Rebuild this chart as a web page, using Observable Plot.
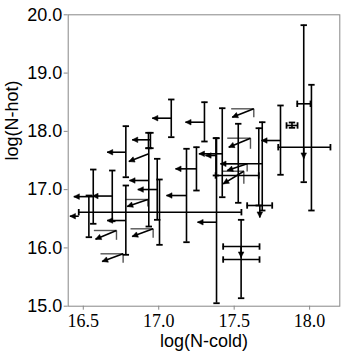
<!DOCTYPE html>
<html><head><meta charset="utf-8">
<script src="https://cdn.jsdelivr.net/npm/d3@7"></script>
<script src="https://cdn.jsdelivr.net/npm/@observablehq/plot@0.6"></script>
<style>body{margin:0;background:#fff}#chart svg{display:block}</style>
</head><body><div id="chart"></div>
<script>
const xTicks = [16.5, 17.0, 17.5, 18.0];
const yTicks = [15, 16, 17, 18, 19, 20];
const xLabel = "log(N-cold)";
const yLabel = "log(N-hot)";

// measurements with error bars
const barX = [17.083,17.303,16.782,16.945,16.932,16.934,16.990,17.005,17.184,17.250,17.421,17.383,17.379,16.692,16.566,16.537,16.782,17.546,17.546,17.670,17.663,17.686,17.807,17.883,17.961,17.961,18.012,17.527];
const barY = [18.226,18.157,17.642,17.855,17.855,17.157,17.002,16.613,16.899,17.357,17.615,16.441,17.569,16.890,16.880,16.544,16.470,15.801,16.024,16.728,17.243,17.443,17.843,18.101,18.473,17.728,17.723,17.452];
const yLo  = [17.900,17.826,17.213,17.711,17.711,16.367,16.482,16.053,16.098,16.985,16.870,15.051,17.243,16.458,16.414,16.184,15.882,15.137,null,null,16.728,16.642,17.255,18.061,null,17.128,16.642,16.774];
const yHi  = [18.547,18.500,18.089,17.975,17.975,17.711,17.529,17.174,17.701,17.728,18.397,17.883,17.883,17.328,17.345,16.899,17.071,16.482,null,null,18.054,18.157,18.444,18.152,null,19.822,18.799,18.130];
const xLo  = [null,null,null,null,null,null,null,16.470,null,null,null,null,null,null,null,null,null,17.427,17.427,17.586,17.377,null,null,17.847,17.918,17.792,null,null];
const xHi  = [null,null,null,null,null,null,null,17.548,null,null,null,null,null,null,null,null,null,17.668,17.668,17.752,17.663,null,null,17.920,18.006,18.138,null,null];

// upper limits in N-cold (left arrows)
const leftX  = [17.083,17.303,16.782,16.945,16.934,16.990,17.184,17.250,17.421,17.379,17.383,16.692,16.566,16.782,16.470,17.686,17.807];
const leftY  = [18.226,18.157,17.642,17.855,17.157,17.002,16.899,17.357,17.615,17.586,16.441,16.890,16.880,16.470,16.544,17.443,17.843];
const leftTo = [16.957,17.177,16.658,16.824,16.806,16.861,17.051,17.111,17.266,17.310,17.257,16.561,16.437,16.658,16.411,17.409,17.681];

// upper limits in N-hot (down arrows)
const downX  = [17.961,17.546,17.670];
const downY  = [17.728,16.024,16.728];
const downTo = [17.534,15.835,16.522];

// upper limits in both (diagonal arrows)
const diagX    = [17.630,17.608,17.586,17.564,16.928,16.720,16.963,16.764,16.934];
const diagY    = [18.387,17.883,17.443,17.316,16.831,16.299,16.328,15.899,17.615];
const diagToX  = [17.487,17.464,17.454,17.427,16.791,16.581,16.824,16.625,16.802];
const diagToY  = [18.243,17.728,17.328,17.100,16.711,16.150,16.196,15.767,17.483];
const diagLeft = [17.480,17.454,17.409,17.420,16.780,16.570,16.813,16.614,16.934];
const diagBot  = [18.243,17.701,17.311,17.100,16.711,16.139,16.174,15.745,17.615];

const W = 357, H = 357, mL = 67.7, mR = 17.7, mT = 14.3, mB = 51.3;
const xDom = [16.4, 18.2], yDom = [15, 20];
const kx = (W - mL - mR) / (xDom[1] - xDom[0]);
const ky = (H - mT - mB) / (yDom[1] - yDom[0]);

const bars = barX.map((x, i) => ({x, y: barY[i], yLo: yLo[i], yHi: yHi[i], xLo: xLo[i], xHi: xHi[i]}));
const vbars = bars.filter(d => d.yLo != null);
const hbars = bars.filter(d => d.xLo != null);
const vcaps = vbars.flatMap(d => [{x: d.x, y: d.yLo}, {x: d.x, y: d.yHi}]);
const hcaps = hbars.flatMap(d => [{x: d.xLo, y: d.y}, {x: d.xHi, y: d.y}]);

const arrows = [
  ...leftX.map((x, i) => ({x0: x, y0: leftY[i], x1: leftTo[i], y1: leftY[i]})),
  ...downX.map((x, i) => ({x0: x, y0: downY[i], x1: x, y1: downTo[i]})),
  ...diagX.map((x, i) => ({x0: x, y0: diagY[i], x1: diagToX[i], y1: diagToY[i]}))
];
const diags = diagX.map((x, i) => ({x, y: diagY[i], left: diagLeft[i], bottom: diagBot[i]}));
const angle = d => Math.atan2((d.x1 - d.x0) * kx, (d.y1 - d.y0) * ky) * 180 / Math.PI;

const hcapSym = {draw(ctx) { ctx.moveTo(-3.2, 0); ctx.lineTo(3.2, 0); }};
const vcapSym = {draw(ctx) { ctx.moveTo(0, -3.2); ctx.lineTo(0, 3.2); }};
const headSym = {draw(ctx) { ctx.moveTo(0, 0); ctx.lineTo(-2.8, 5.6); ctx.lineTo(2.8, 5.6); ctx.closePath(); }};

const chart = Plot.plot({
  width: W, height: H,
  marginLeft: mL, marginRight: mR, marginTop: mT, marginBottom: mB,
  x: {domain: xDom},
  y: {domain: yDom},
  style: {background: "white", color: "black"},
  marks: [
    Plot.frame({stroke: "#888", strokeWidth: 1}),
    Plot.axisX({ticks: xTicks, tickFormat: d3.format(".1f"), tickSize: 4, tickPadding: 4, fontSize: 18, fontFamily: "Liberation Serif", stroke: "#888", fill: "black", label: null}),
    Plot.axisY({ticks: yTicks, tickFormat: d3.format(".1f"), tickSize: 4, tickPadding: 2, fontSize: 18, fontFamily: "Liberation Sans", stroke: "#888", fill: "black", label: null}),
    Plot.text([xLabel], {frameAnchor: "bottom", dy: 35, fontSize: 18, fontFamily: "Liberation Sans", fill: "black", lineAnchor: "middle"}),
    Plot.text([yLabel], {frameAnchor: "left", dx: -56, rotate: -90, fontSize: 18, fontFamily: "Liberation Sans", fill: "black", lineAnchor: "middle"}),
    Plot.link(diags, {x1: "left", y1: "y", x2: "x", y2: "y", stroke: "#555", strokeWidth: 1.4}),
    Plot.link(diags, {x1: "x", y1: "y", x2: "x", y2: "bottom", stroke: "#555", strokeWidth: 1.4}),
    Plot.ruleX(vbars, {x: "x", y1: "yLo", y2: "yHi", stroke: "black", strokeWidth: 1.6}),
    Plot.ruleY(hbars, {y: "y", x1: "xLo", x2: "xHi", stroke: "black", strokeWidth: 1.6}),
    Plot.dot(vcaps, {x: "x", y: "y", symbol: hcapSym, stroke: "black", strokeWidth: 1.8, fill: "none"}),
    Plot.dot(hcaps, {x: "x", y: "y", symbol: vcapSym, stroke: "black", strokeWidth: 1.8, fill: "none"}),
    Plot.link(arrows, {x1: "x0", y1: "y0", x2: "x1", y2: "y1", stroke: "black", strokeWidth: 1.6}),
    Plot.dot(arrows, {x: "x1", y: "y1", symbol: headSym, rotate: angle, fill: "black", stroke: "black", strokeWidth: 0.5})
  ]
});
document.getElementById("chart").append(chart);
</script>
</body></html>
